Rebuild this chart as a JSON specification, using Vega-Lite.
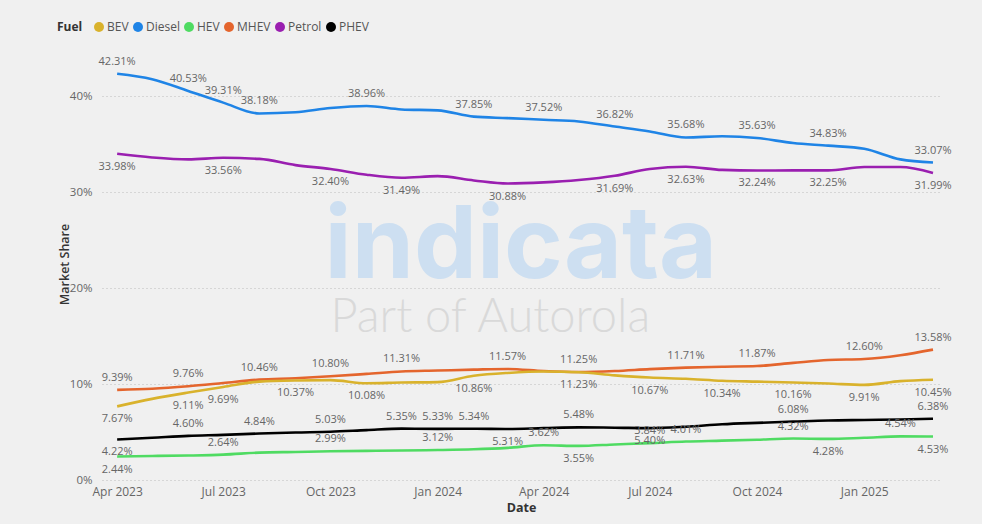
{
  "$schema": "https://vega.github.io/schema/vega-lite/v6.json",
  "width": 838,
  "height": 432,
  "autosize": {"type": "none"},
  "padding": {"left": 102, "top": 48, "right": 42, "bottom": 44},
  "background": "#f0f0f0",
  "config": {
    "view": {"stroke": null},
    "font": "Open Sans",
    "legend": {
      "orient": "none",
      "legendX": -45,
      "legendY": -27,
      "direction": "horizontal",
      "titleOrient": "left",
      "titleFontWeight": "bold",
      "titleFontSize": 12,
      "titleColor": "#333333",
      "titlePadding": 10,
      "labelFontSize": 12,
      "labelColor": "#555555",
      "symbolType": "circle",
      "symbolSize": 100,
      "symbolStrokeWidth": 0,
      "columnPadding": 3,
      "labelOffset": 2
    }
  },
  "datasets": {
    "share": [
      {"d": "2023/04/01", "fuel": "Diesel", "share": 0.4231, "lab": "above"},
      {"d": "2023/05/01", "fuel": "Diesel", "share": 0.4175},
      {"d": "2023/06/01", "fuel": "Diesel", "share": 0.4053, "lab": "above"},
      {"d": "2023/07/01", "fuel": "Diesel", "share": 0.3931, "lab": "above"},
      {"d": "2023/08/01", "fuel": "Diesel", "share": 0.3818, "lab": "above"},
      {"d": "2023/09/01", "fuel": "Diesel", "share": 0.383},
      {"d": "2023/10/01", "fuel": "Diesel", "share": 0.3875},
      {"d": "2023/11/01", "fuel": "Diesel", "share": 0.3896, "lab": "above"},
      {"d": "2023/12/01", "fuel": "Diesel", "share": 0.386},
      {"d": "2024/01/01", "fuel": "Diesel", "share": 0.385},
      {"d": "2024/02/01", "fuel": "Diesel", "share": 0.3785, "lab": "above"},
      {"d": "2024/03/01", "fuel": "Diesel", "share": 0.377},
      {"d": "2024/04/01", "fuel": "Diesel", "share": 0.3752, "lab": "above"},
      {"d": "2024/05/01", "fuel": "Diesel", "share": 0.3735},
      {"d": "2024/06/01", "fuel": "Diesel", "share": 0.3682, "lab": "above"},
      {"d": "2024/07/01", "fuel": "Diesel", "share": 0.363},
      {"d": "2024/08/01", "fuel": "Diesel", "share": 0.3568, "lab": "above"},
      {"d": "2024/09/01", "fuel": "Diesel", "share": 0.358},
      {"d": "2024/10/01", "fuel": "Diesel", "share": 0.3563, "lab": "above"},
      {"d": "2024/11/01", "fuel": "Diesel", "share": 0.351},
      {"d": "2024/12/01", "fuel": "Diesel", "share": 0.3483, "lab": "above"},
      {"d": "2025/01/01", "fuel": "Diesel", "share": 0.345},
      {"d": "2025/02/01", "fuel": "Diesel", "share": 0.334},
      {"d": "2025/03/01", "fuel": "Diesel", "share": 0.3307, "lab": "above"},

      {"d": "2023/04/01", "fuel": "Petrol", "share": 0.3398, "lab": "below"},
      {"d": "2023/05/01", "fuel": "Petrol", "share": 0.336},
      {"d": "2023/06/01", "fuel": "Petrol", "share": 0.334},
      {"d": "2023/07/01", "fuel": "Petrol", "share": 0.3356, "lab": "below"},
      {"d": "2023/08/01", "fuel": "Petrol", "share": 0.3345},
      {"d": "2023/09/01", "fuel": "Petrol", "share": 0.328},
      {"d": "2023/10/01", "fuel": "Petrol", "share": 0.324, "lab": "below"},
      {"d": "2023/11/01", "fuel": "Petrol", "share": 0.318},
      {"d": "2023/12/01", "fuel": "Petrol", "share": 0.3149, "lab": "below"},
      {"d": "2024/01/01", "fuel": "Petrol", "share": 0.3165},
      {"d": "2024/02/01", "fuel": "Petrol", "share": 0.312},
      {"d": "2024/03/01", "fuel": "Petrol", "share": 0.3088, "lab": "below"},
      {"d": "2024/04/01", "fuel": "Petrol", "share": 0.31},
      {"d": "2024/05/01", "fuel": "Petrol", "share": 0.3125},
      {"d": "2024/06/01", "fuel": "Petrol", "share": 0.3169, "lab": "below"},
      {"d": "2024/07/01", "fuel": "Petrol", "share": 0.324},
      {"d": "2024/08/01", "fuel": "Petrol", "share": 0.3263, "lab": "below"},
      {"d": "2024/09/01", "fuel": "Petrol", "share": 0.323},
      {"d": "2024/10/01", "fuel": "Petrol", "share": 0.3224, "lab": "below"},
      {"d": "2024/11/01", "fuel": "Petrol", "share": 0.3225},
      {"d": "2024/12/01", "fuel": "Petrol", "share": 0.3225, "lab": "below"},
      {"d": "2025/01/01", "fuel": "Petrol", "share": 0.326},
      {"d": "2025/02/01", "fuel": "Petrol", "share": 0.326},
      {"d": "2025/03/01", "fuel": "Petrol", "share": 0.3199, "lab": "below"},

      {"d": "2023/04/01", "fuel": "MHEV", "share": 0.0939, "lab": "above"},
      {"d": "2023/05/01", "fuel": "MHEV", "share": 0.095},
      {"d": "2023/06/01", "fuel": "MHEV", "share": 0.0976, "lab": "above"},
      {"d": "2023/07/01", "fuel": "MHEV", "share": 0.101},
      {"d": "2023/08/01", "fuel": "MHEV", "share": 0.1046, "lab": "above"},
      {"d": "2023/09/01", "fuel": "MHEV", "share": 0.106},
      {"d": "2023/10/01", "fuel": "MHEV", "share": 0.108, "lab": "above"},
      {"d": "2023/11/01", "fuel": "MHEV", "share": 0.1105},
      {"d": "2023/12/01", "fuel": "MHEV", "share": 0.1131, "lab": "above"},
      {"d": "2024/01/01", "fuel": "MHEV", "share": 0.114},
      {"d": "2024/02/01", "fuel": "MHEV", "share": 0.115},
      {"d": "2024/03/01", "fuel": "MHEV", "share": 0.1157, "lab": "above"},
      {"d": "2024/04/01", "fuel": "MHEV", "share": 0.1135},
      {"d": "2024/05/01", "fuel": "MHEV", "share": 0.1125, "lab": "above"},
      {"d": "2024/06/01", "fuel": "MHEV", "share": 0.1135},
      {"d": "2024/07/01", "fuel": "MHEV", "share": 0.1155},
      {"d": "2024/08/01", "fuel": "MHEV", "share": 0.1171, "lab": "above"},
      {"d": "2024/09/01", "fuel": "MHEV", "share": 0.118},
      {"d": "2024/10/01", "fuel": "MHEV", "share": 0.1187, "lab": "above"},
      {"d": "2024/11/01", "fuel": "MHEV", "share": 0.122},
      {"d": "2024/12/01", "fuel": "MHEV", "share": 0.125},
      {"d": "2025/01/01", "fuel": "MHEV", "share": 0.126, "lab": "above"},
      {"d": "2025/02/01", "fuel": "MHEV", "share": 0.13},
      {"d": "2025/03/01", "fuel": "MHEV", "share": 0.1358, "lab": "above"},

      {"d": "2023/04/01", "fuel": "BEV", "share": 0.0767, "lab": "below"},
      {"d": "2023/05/01", "fuel": "BEV", "share": 0.0845},
      {"d": "2023/06/01", "fuel": "BEV", "share": 0.0911, "lab": "below"},
      {"d": "2023/07/01", "fuel": "BEV", "share": 0.0969, "lab": "below"},
      {"d": "2023/08/01", "fuel": "BEV", "share": 0.1025},
      {"d": "2023/09/01", "fuel": "BEV", "share": 0.1037, "lab": "below"},
      {"d": "2023/10/01", "fuel": "BEV", "share": 0.104},
      {"d": "2023/11/01", "fuel": "BEV", "share": 0.1008, "lab": "below"},
      {"d": "2023/12/01", "fuel": "BEV", "share": 0.1015},
      {"d": "2024/01/01", "fuel": "BEV", "share": 0.102},
      {"d": "2024/02/01", "fuel": "BEV", "share": 0.1086, "lab": "below"},
      {"d": "2024/03/01", "fuel": "BEV", "share": 0.1115},
      {"d": "2024/04/01", "fuel": "BEV", "share": 0.113},
      {"d": "2024/05/01", "fuel": "BEV", "share": 0.1123, "lab": "below"},
      {"d": "2024/06/01", "fuel": "BEV", "share": 0.109},
      {"d": "2024/07/01", "fuel": "BEV", "share": 0.1067, "lab": "below"},
      {"d": "2024/08/01", "fuel": "BEV", "share": 0.1055},
      {"d": "2024/09/01", "fuel": "BEV", "share": 0.1034, "lab": "below"},
      {"d": "2024/10/01", "fuel": "BEV", "share": 0.1025},
      {"d": "2024/11/01", "fuel": "BEV", "share": 0.1016, "lab": "below"},
      {"d": "2024/12/01", "fuel": "BEV", "share": 0.1005},
      {"d": "2025/01/01", "fuel": "BEV", "share": 0.0991, "lab": "below"},
      {"d": "2025/02/01", "fuel": "BEV", "share": 0.103},
      {"d": "2025/03/01", "fuel": "BEV", "share": 0.1045, "lab": "below"},

      {"d": "2023/04/01", "fuel": "PHEV", "share": 0.0422, "lab": "below"},
      {"d": "2023/05/01", "fuel": "PHEV", "share": 0.044},
      {"d": "2023/06/01", "fuel": "PHEV", "share": 0.046, "lab": "above"},
      {"d": "2023/07/01", "fuel": "PHEV", "share": 0.047},
      {"d": "2023/08/01", "fuel": "PHEV", "share": 0.0484, "lab": "above"},
      {"d": "2023/09/01", "fuel": "PHEV", "share": 0.0495},
      {"d": "2023/10/01", "fuel": "PHEV", "share": 0.0503, "lab": "above"},
      {"d": "2023/11/01", "fuel": "PHEV", "share": 0.052},
      {"d": "2023/12/01", "fuel": "PHEV", "share": 0.0535, "lab": "above"},
      {"d": "2024/01/01", "fuel": "PHEV", "share": 0.0533, "lab": "above"},
      {"d": "2024/02/01", "fuel": "PHEV", "share": 0.0534, "lab": "above"},
      {"d": "2024/03/01", "fuel": "PHEV", "share": 0.0531, "lab": "below"},
      {"d": "2024/04/01", "fuel": "PHEV", "share": 0.054},
      {"d": "2024/05/01", "fuel": "PHEV", "share": 0.0548, "lab": "above"},
      {"d": "2024/06/01", "fuel": "PHEV", "share": 0.0545},
      {"d": "2024/07/01", "fuel": "PHEV", "share": 0.054, "lab": "below"},
      {"d": "2024/08/01", "fuel": "PHEV", "share": 0.0555},
      {"d": "2024/09/01", "fuel": "PHEV", "share": 0.058},
      {"d": "2024/10/01", "fuel": "PHEV", "share": 0.0595},
      {"d": "2024/11/01", "fuel": "PHEV", "share": 0.0608, "lab": "above"},
      {"d": "2024/12/01", "fuel": "PHEV", "share": 0.062},
      {"d": "2025/01/01", "fuel": "PHEV", "share": 0.0625},
      {"d": "2025/02/01", "fuel": "PHEV", "share": 0.063},
      {"d": "2025/03/01", "fuel": "PHEV", "share": 0.0638, "lab": "above"},

      {"d": "2023/04/01", "fuel": "HEV", "share": 0.0244, "lab": "below"},
      {"d": "2023/05/01", "fuel": "HEV", "share": 0.025},
      {"d": "2023/06/01", "fuel": "HEV", "share": 0.0255},
      {"d": "2023/07/01", "fuel": "HEV", "share": 0.0264, "lab": "above"},
      {"d": "2023/08/01", "fuel": "HEV", "share": 0.0285},
      {"d": "2023/09/01", "fuel": "HEV", "share": 0.0292},
      {"d": "2023/10/01", "fuel": "HEV", "share": 0.0299, "lab": "above"},
      {"d": "2023/11/01", "fuel": "HEV", "share": 0.0303},
      {"d": "2023/12/01", "fuel": "HEV", "share": 0.0307},
      {"d": "2024/01/01", "fuel": "HEV", "share": 0.0312, "lab": "above"},
      {"d": "2024/02/01", "fuel": "HEV", "share": 0.032},
      {"d": "2024/03/01", "fuel": "HEV", "share": 0.0335},
      {"d": "2024/04/01", "fuel": "HEV", "share": 0.0362, "lab": "above"},
      {"d": "2024/05/01", "fuel": "HEV", "share": 0.0355, "lab": "below"},
      {"d": "2024/06/01", "fuel": "HEV", "share": 0.037},
      {"d": "2024/07/01", "fuel": "HEV", "share": 0.0384, "lab": "above"},
      {"d": "2024/08/01", "fuel": "HEV", "share": 0.0401, "lab": "above"},
      {"d": "2024/09/01", "fuel": "HEV", "share": 0.041},
      {"d": "2024/10/01", "fuel": "HEV", "share": 0.042},
      {"d": "2024/11/01", "fuel": "HEV", "share": 0.0432, "lab": "above"},
      {"d": "2024/12/01", "fuel": "HEV", "share": 0.0428, "lab": "below"},
      {"d": "2025/01/01", "fuel": "HEV", "share": 0.044},
      {"d": "2025/02/01", "fuel": "HEV", "share": 0.0454, "lab": "above"},
      {"d": "2025/03/01", "fuel": "HEV", "share": 0.0453, "lab": "below"}
    ]
  },
  "layer": [
    {
      "data": {"values": [{"t": "indicata"}]},
      "mark": {"type": "text", "font": "Inter", "fontSize": 100, "fontWeight": "bold", "color": "#cddff1", "align": "left", "baseline": "alphabetic"},
      "encoding": {
        "x": {"datum": {"year": 2023, "month": 9, "date": 26}, "type": "temporal", "scale": {"domain": [{"year": 2023, "month": 3, "date": 19}, {"year": 2025, "month": 3, "date": 7}]}},
        "y": {"datum": 0.21, "type": "quantitative", "scale": {"domain": [0, 0.45], "nice": false}},
        "text": {"field": "t"}
      }
    },
    {
      "data": {"values": [{"t": "Part of Autorola"}]},
      "mark": {"type": "text", "font": "Lato", "fontSize": 47, "fontWeight": 300, "color": "#d9d9d9", "align": "left", "baseline": "alphabetic"},
      "encoding": {
        "x": {"datum": {"year": 2023, "month": 10, "date": 1}, "type": "temporal"},
        "y": {"datum": 0.154, "type": "quantitative"},
        "text": {"field": "t"}
      }
    },
    {
      "data": {"name": "share"},
      "mark": {"type": "line", "strokeWidth": 2.6, "interpolate": "monotone"},
      "encoding": {
        "x": {
          "field": "d", "type": "temporal", "title": "Date",
          "axis": {
            "values": [
              {"year": 2023, "month": 4, "date": 1}, {"year": 2023, "month": 7, "date": 1},
              {"year": 2023, "month": 10, "date": 1}, {"year": 2024, "month": 1, "date": 1},
              {"year": 2024, "month": 4, "date": 1}, {"year": 2024, "month": 7, "date": 1},
              {"year": 2024, "month": 10, "date": 1}, {"year": 2025, "month": 1, "date": 1}
            ],
            "format": "%b %Y", "grid": false, "ticks": false, "domain": false,
            "labelFontSize": 12, "labelColor": "#666666", "labelPadding": 6,
            "titleFontSize": 12.5, "titleFontWeight": "bold", "titleColor": "#333333", "titlePadding": 4
          }
        },
        "y": {
          "field": "share", "type": "quantitative", "title": "Market Share",
          "axis": {
            "values": [0, 0.1, 0.2, 0.3, 0.4], "format": ".0%",
            "grid": true, "gridDash": [1, 3], "gridColor": "#bdbdbd", "gridWidth": 1,
            "ticks": false, "domain": false,
            "labelFontSize": 11.5, "labelColor": "#666666", "labelPadding": 10,
            "titleFontSize": 12.5, "titleFontWeight": 600, "titleColor": "#333333", "titlePadding": -2
          }
        },
        "color": {
          "field": "fuel", "type": "nominal", "title": "Fuel",
          "scale": {
            "domain": ["BEV", "Diesel", "HEV", "MHEV", "Petrol", "PHEV"],
            "range": ["#d9b22c", "#1f84e6", "#4fdb62", "#e4652d", "#9a1fb0", "#000000"]
          },
          "legend": {
            "encode": {"symbols": {"update": {"fill": {"scale": "color", "field": "value"}, "stroke": {"value": "transparent"}}}}
          }
        }
      }
    },
    {
      "data": {"name": "share"},
      "transform": [{"filter": "datum.lab === 'above'"}],
      "mark": {"type": "text", "dy": -12, "fontSize": 11, "color": "#666666"},
      "encoding": {
        "x": {"field": "d", "type": "temporal"},
        "y": {"field": "share", "type": "quantitative"},
        "text": {"field": "share", "type": "quantitative", "format": ".2%"}
      }
    },
    {
      "data": {"name": "share"},
      "transform": [{"filter": "datum.lab === 'below'"}],
      "mark": {"type": "text", "dy": 13, "fontSize": 11, "color": "#666666"},
      "encoding": {
        "x": {"field": "d", "type": "temporal"},
        "y": {"field": "share", "type": "quantitative"},
        "text": {"field": "share", "type": "quantitative", "format": ".2%"}
      }
    }
  ]
}
